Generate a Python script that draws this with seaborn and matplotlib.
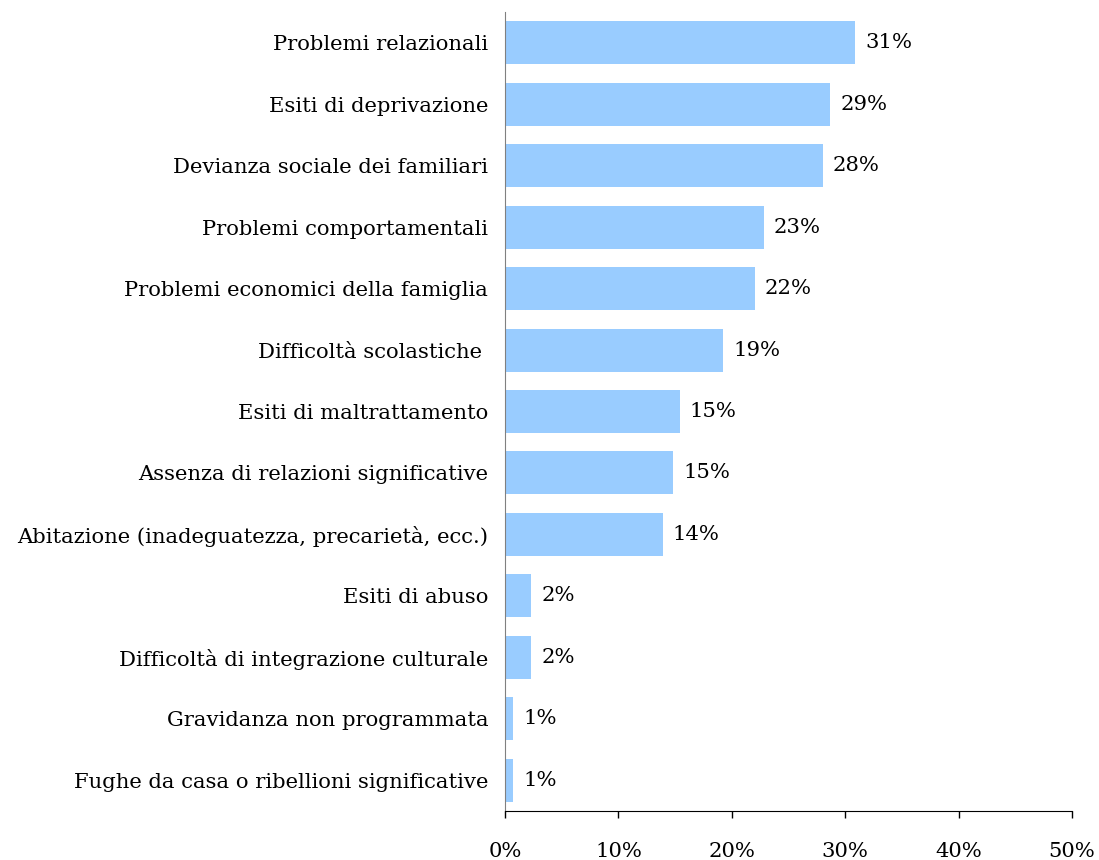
import matplotlib
matplotlib.use("Agg")
import matplotlib.pyplot as plt
import seaborn as sns
import pandas as pd
from matplotlib.ticker import PercentFormatter

categories = [
    "Problemi relazionali",
    "Esiti di deprivazione",
    "Devianza sociale dei familiari",
    "Problemi comportamentali",
    "Problemi economici della famiglia",
    "Difficoltà scolastiche ",
    "Esiti di maltrattamento",
    "Assenza di relazioni significative",
    "Abitazione (inadeguatezza, precarietà, ecc.)",
    "Esiti di abuso",
    "Difficoltà di integrazione culturale",
    "Gravidanza non programmata",
    "Fughe da casa o ribellioni significative",
]
values = [30.9, 28.7, 28.0, 22.8, 22.0, 19.2, 15.4, 14.8, 13.9, 2.3, 2.3, 0.7, 0.7]

df = pd.DataFrame({"causa": categories, "perc": values})

sns.set_style("white")
plt.rcParams["font.family"] = ["DejaVu Serif"]
plt.rcParams["text.color"] = "black"
plt.rcParams["xtick.color"] = "black"
plt.rcParams["ytick.color"] = "black"

fig = plt.figure(figsize=(10.99, 8.6), dpi=100)
ax = fig.add_axes([0.4595, 0.057, 0.516, 0.929])

sns.barplot(data=df, x="perc", y="causa", color="#99CCFF", width=0.7,
            saturation=1, linewidth=0, ax=ax, orient="h")

for i, v in enumerate(values):
    ax.text(v + 0.9, i, f"{round(v):.0f}%", va="center", ha="left", fontsize=15.2)

ax.set_xlim(0, 50)
ax.set_ylim(12.5, -0.5)
ax.set_xticks(range(0, 51, 10))
ax.xaxis.set_major_formatter(PercentFormatter(decimals=0))
ax.set_xlabel("")
ax.set_ylabel("")
ax.tick_params(axis="x", direction="out", length=5, width=1, color="black",
               labelsize=15.2, pad=17, bottom=True)
ax.tick_params(axis="y", length=0, labelsize=15.2, pad=12)

for s in ["top", "right"]:
    ax.spines[s].set_visible(False)
ax.spines["left"].set_color("#808080")
ax.spines["bottom"].set_color("black")

fig.savefig("out.png", dpi=100)
